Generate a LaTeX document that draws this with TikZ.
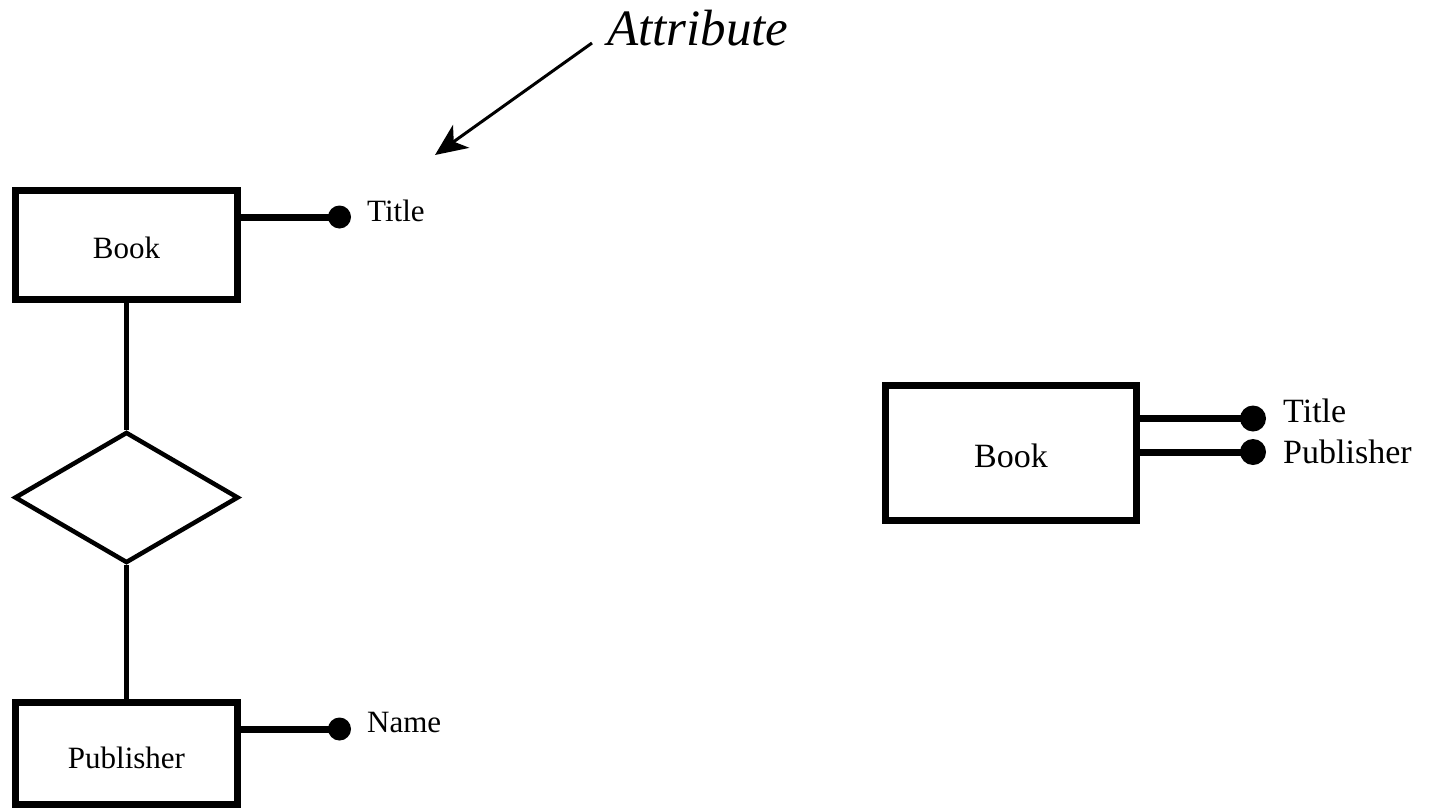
\documentclass[tikz,border=0pt]{standalone}
\usepackage{fontspec}
\setmainfont{Liberation Serif}
\usetikzlibrary{shapes.geometric,arrows.meta}

\tikzset{
  entity/.style={draw, line width=7pt, rectangle, inner sep=0pt, align=center, text depth=0pt},
  relation/.style={draw, line width=4.5pt, diamond, inner sep=0pt,
    minimum width=224pt, minimum height=131pt},
  link/.style={line width=5pt},
  attrline/.style={line width=7pt},
  attrdot/.style={circle, fill=black, inner sep=0pt, minimum size=23pt},
  attrdotR/.style={circle, fill=black, inner sep=0pt, minimum size=26pt},
  attrlabel/.style={anchor=base west, inner sep=0pt, font=\fontsize{31}{36}\selectfont},
  attrlabelR/.style={anchor=base west, inner sep=0pt, font=\fontsize{34}{40}\selectfont},
  callout/.style={line width=3pt, -{Stealth[length=32pt, width=28pt, inset=9pt]}}
}

\begin{document}
\begin{tikzpicture}[x=1pt, y=-1pt]
  \path[use as bounding box] (0,0) rectangle (1431,811);

  % left: entity - relationship - entity
  \node[entity, minimum width=222pt, minimum height=109pt, text height=26pt,
        font=\fontsize{31}{36}\selectfont] (book) at (126.5,245) {Book};
  \node[relation] (rel) at (126.5,497.5) {};
  \node[entity, minimum width=222pt, minimum height=102pt, text height=29pt,
        font=\fontsize{31}{36}\selectfont] (pub) at (126.5,753.5) {Publisher};

  \draw[link] (book.south) -- (rel.north);
  \draw[link] (rel.south) -- (pub.north);

  % attributes of the left entities
  \node[attrdot] (dtitle) at (339.5,217) {};
  \node[attrdot] (dname) at (339.5,729) {};
  \draw[attrline] (book.east |- dtitle) -- (dtitle.center);
  \draw[attrline] (pub.east |- dname) -- (dname.center);
  \node[attrlabel] (ltitle) at (367,221) {Title};
  \node[attrlabel] (lname) at (367,732) {Name};

  % callout
  \node[anchor=base west, inner sep=0pt, font=\fontsize{51}{60}\selectfont\itshape]
        (attr) at (607,45) {Attribute};
  \coordinate (attrtip) at (435,155);
  \draw[callout] (592,43) -- (attrtip);

  % right: entity with two attributes
  \node[entity, minimum width=251pt, minimum height=135pt, text height=28pt,
        font=\fontsize{34}{40}\selectfont] (bookR) at (1011,453) {Book};
  \node[attrdotR] (dRtitle) at (1253,418.5) {};
  \node[attrdotR] (dRpub) at (1253,452) {};
  \draw[attrline] (bookR.east |- dRtitle) -- (dRtitle.center);
  \draw[attrline] (bookR.east |- dRpub) -- (dRpub.center);
  \node[attrlabelR] (lRtitle) at (1283,422) {Title};
  \node[attrlabelR] (lRpub) at (1283,463) {Publisher};
\end{tikzpicture}
\end{document}
